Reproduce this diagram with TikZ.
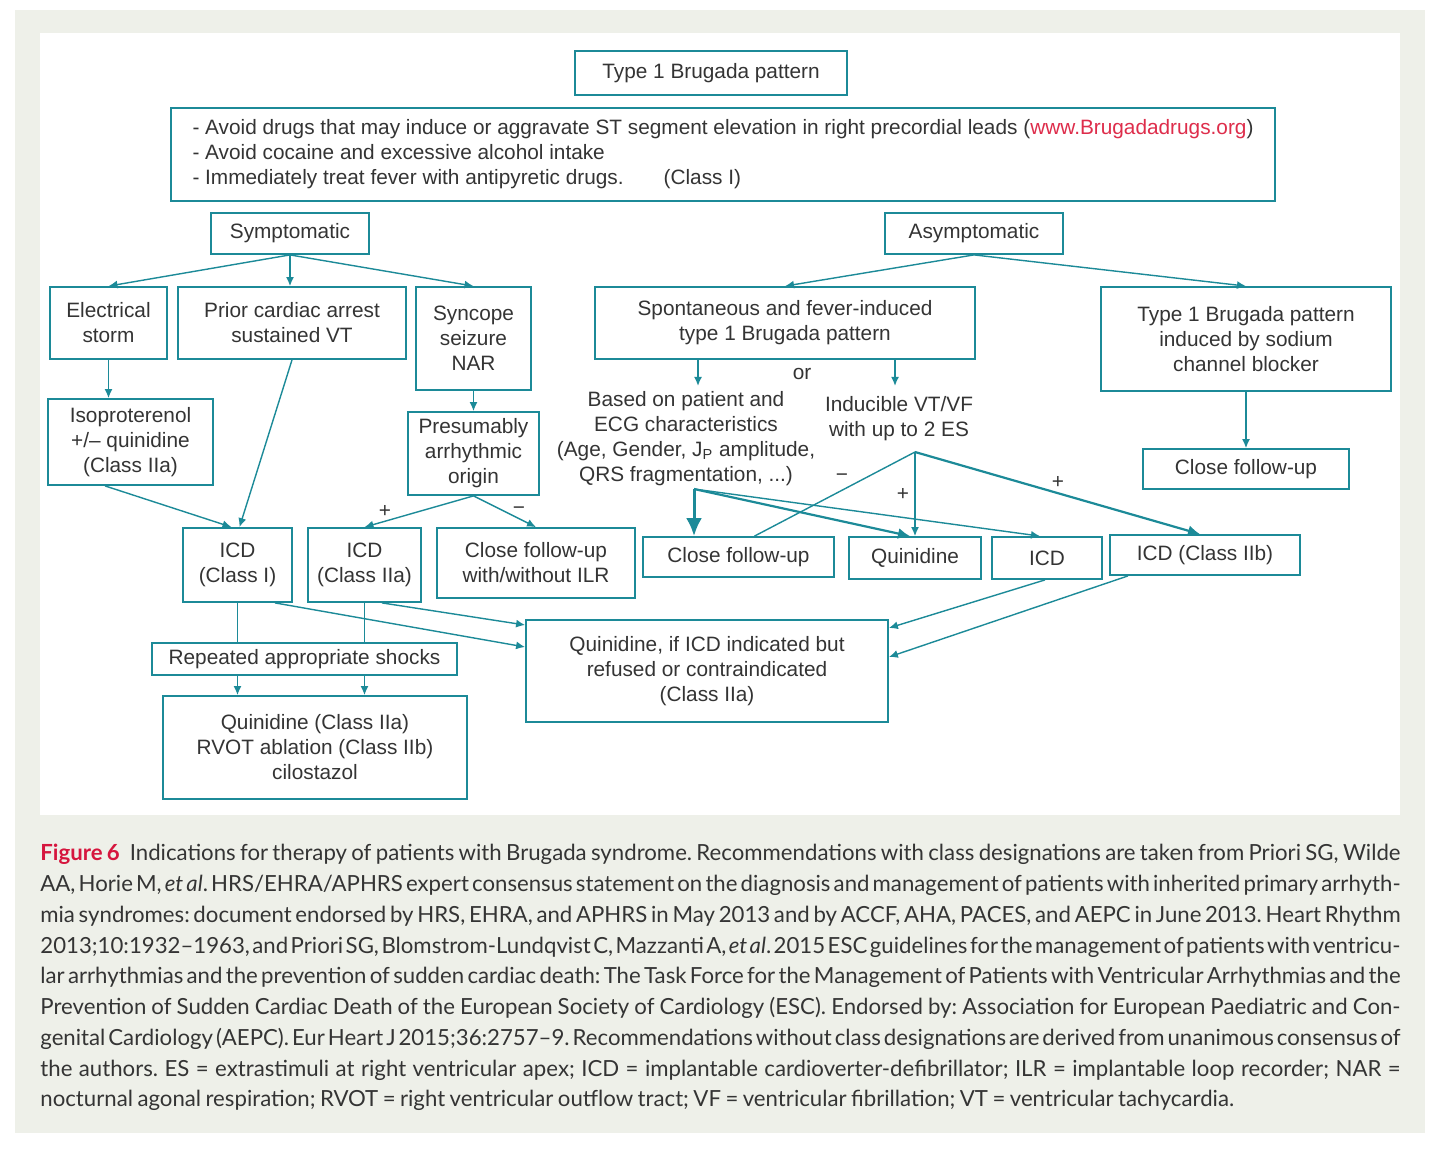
\documentclass[tikz,border=0pt]{standalone}
\usepackage{fontspec}
\setmainfont{Liberation Sans}
\newfontfamily\capfont{Lato}
\newcommand\capfnt{\capfont\fontsize{11.1}{15.375}\selectfont\frenchspacing\spaceskip=0.2em plus 0.5em minus 0.1em\relax}
\usetikzlibrary{arrows.meta,calc}
\definecolor{brteal}{RGB}{28,138,152}
\definecolor{brtext}{RGB}{52,52,52}
\definecolor{brred}{RGB}{222,45,75}
\definecolor{figred}{RGB}{214,22,62}
\definecolor{panel}{RGB}{238,240,233}
\begin{document}
\begin{tikzpicture}[x=0.5pt, y=-0.5pt,
  size/.style 2 args={minimum width=#1*0.5pt, minimum height=#2*0.5pt},
  box/.style={draw=brteal, line width=0.9pt, inner sep=0pt, align=center, text=brtext, font=\fontsize{10.4}{12.5}\selectfont},
  note/.style={inner sep=0pt, align=center, text=brtext, font=\fontsize{10.4}{12.5}\selectfont},
  link/.style={brteal, line width=0.7pt},
  arr/.style={link, -{Latex[length=4.5pt,width=4pt]}},
  midarr/.style={brteal, line width=1.1pt, -{Latex[length=6pt,width=5.5pt]}},
  bigarr/.style={brteal, line width=1.5pt, -{Latex[length=9pt,width=8pt]}}]

\fill[white] (0,0) rectangle (1440,1151);
\fill[panel] (15,10) rectangle (1425,1133);
\fill[white] (40,33) rectangle (1400,815);
\useasboundingbox (0,0) rectangle (1440,1151);

% top
\node[box, size={272}{44}] (type1) at (711,73) {Type 1 Brugada pattern};
\node[box, size={1104}{93}, align=left] (avoid) at (723,154.5) {- Avoid drugs that may induce or aggravate ST segment elevation in right precordial leads (\textcolor{brred}{www.Brugadadrugs.org})\\- Avoid cocaine and excessive alcohol intake\\- Immediately treat fever with antipyretic drugs.\hspace{20pt}(Class I)};

% symptomatic branch
\node[box, size={158}{41}] (sympt) at (290,233.5) {Symptomatic};
\node[box, size={117}{72}] (elec) at (108.5,323) {Electrical\\storm};
\node[box, size={228}{72}] (prior) at (292,323) {Prior cardiac arrest\\sustained VT};
\node[box, size={115}{103}] (sync) at (473.5,338.5) {Syncope\\seizure\\NAR};
\node[box, size={165}{86}] (iso) at (130.5,442) {Isoproterenol\\+/– quinidine\\(Class IIa)};
\node[box, size={131}{83}] (presum) at (473.5,453.5) {Presumably\\arrhythmic\\origin};
\node[box, size={109}{74}] (icdI) at (237.5,565) {ICD\\(Class I)};
\node[box, size={113}{74}] (icdIIa) at (364.5,565) {ICD\\(Class IIa)};
\node[box, size={198}{70}] (cfuILR) at (536,563) {Close follow-up\\with/without ILR};
\node[box, size={305}{32}] (shocks) at (304.5,659) {Repeated appropriate shocks};
\node[box, size={304}{103}] (quinIIa) at (315,747.5) {Quinidine (Class IIa)\\RVOT ablation (Class IIb)\\cilostazol};

% asymptomatic branch
\node[box, size={178}{41}] (asympt) at (974,233.5) {Asymptomatic};
\node[box, size={380}{72}] (spont) at (785,323) {Spontaneous and fever-induced\\type 1 Brugada pattern};
\node[box, size={290}{104}] (induced) at (1246,339) {Type 1 Brugada pattern\\induced by sodium\\channel blocker};
\node[box, size={206}{40}] (cfuR) at (1246,469) {Close follow-up};
\node[note] (or) at (802,374) {or};
\node[note] (based) at (686,438.5) {Based on patient and\\ECG characteristics\\(Age, Gender, J\textsubscript{P} amplitude,\\QRS fragmentation, ...)};
\node[note] (induc) at (899,418.5) {Inducible VT/VF\\with up to 2 ES};
\node[box, size={191}{40}] (cfuM) at (738.5,557) {Close follow-up};
\node[box, size={132}{42}] (quin) at (915,558) {Quinidine};
\node[box, size={110}{42}] (icd) at (1047,558) {ICD};
\node[box, size={190}{40}] (icdIIb) at (1205,555) {ICD (Class IIb)};
\node[box, size={362}{102}] (quinIf) at (707,671) {Quinidine, if ICD indicated but\\refused or contraindicated\\(Class IIa)};

\coordinate (spontL) at ($(spont.south)+(-87,0)$);
\coordinate (spontR) at ($(spont.south)+(110,0)$);
\coordinate (bsplit) at (694,489);
\coordinate (isplit) at (915,452);

% connectors
\draw[arr] (sympt.south) -- (elec.north);
\draw[arr] (sympt.south) -- (sympt.south |- prior.north);
\draw[arr] (sympt.south) -- (sync.north);
\draw[arr] (asympt.south) -- (spont.north);
\draw[arr] (asympt.south) -- (induced.north);
\draw[arr] (elec.south) -- (elec.south |- iso.north);
\draw[arr] (sync.south) -- (presum.north);
\draw[arr] ([xshift=-12.75pt]iso.south) -- ([xshift=-3pt]icdI.north);
\draw[arr] (prior.south) -- ([xshift=1pt]icdI.north);
\draw[arr] (presum.south) -- (icdIIa.north);
\draw[arr] (presum.south) -- (cfuILR.north);
\node[note] (plusP) at (385,511) {+};
\node[note] (minusP) at (519,511) {−};

\draw[arr] (spontL) -- ++(0,26);
\draw[arr] (spontR) -- ++(0,26);
\draw[bigarr] (bsplit) -- (bsplit |- cfuM.north);
\draw[midarr] (bsplit) -- ([xshift=-2.5pt]quin.north);
\draw[arr] (bsplit) -- ([xshift=-3.5pt]icd.north);
\draw[link] (isplit) -- ([xshift=8pt]cfuM.north);
\draw[arr] (isplit) -- (quin.north);
\draw[midarr] (isplit) -- ([xshift=-2.5pt]icdIIb.north);
\node[note] (minusI) at (842,478) {−};
\node[note] (plusI) at (903,494) {+};
\node[note] (plusK) at (1058,482) {+};
\draw[arr] (induced.south) -- (cfuR.north);

\draw[link] (icdI.south) -- (icdI.south |- shocks.north);
\draw[link] (icdIIa.south) -- (icdIIa.south |- shocks.north);
\draw[arr] (icdI.south |- shocks.south) -- (icdI.south |- quinIIa.north);
\draw[arr] (icdIIa.south |- shocks.south) -- (icdIIa.south |- quinIIa.north);
\draw[arr] ([xshift=18.75pt]icdI.south) -- ([yshift=12pt]quinIf.west);
\draw[arr] ([xshift=8.75pt]icdIIa.south) -- ([yshift=23pt]quinIf.west);
\draw[arr] ([xshift=-1pt]icd.south) -- ([yshift=21.5pt]quinIf.east);
\draw[arr] ([xshift=-38.5pt]icdIIb.south) -- ([yshift=7pt]quinIf.east);

% caption
\node[anchor=north west, inner sep=0pt, align=left, text=brtext, font=\capfnt] (caption) at (40,844) {%
\makebox[680pt][s]{\textcolor{figred}{\bfseries Figure 6}\hspace{0.45em}Indications for therapy of patients with Brugada syndrome. Recommendations with class designations are taken from Priori SG, Wilde}\\
\makebox[680pt][s]{AA, Horie M, \textit{et al}. HRS/EHRA/APHRS expert consensus statement on the diagnosis and management of patients with inherited primary arrhyth-}\\
\makebox[680pt][s]{mia syndromes: document endorsed by HRS, EHRA, and APHRS in May 2013 and by ACCF, AHA, PACES, and AEPC in June 2013. Heart Rhythm}\\
\makebox[680pt][s]{2013;10:1932–1963, and Priori SG, Blomstrom-Lundqvist C, Mazzanti A, \textit{et al}. 2015 ESC guidelines for the management of patients with ventricu-}\\
\makebox[680pt][s]{lar arrhythmias and the prevention of sudden cardiac death: The Task Force for the Management of Patients with Ventricular Arrhythmias and the}\\
\makebox[680pt][s]{Prevention of Sudden Cardiac Death of the European Society of Cardiology (ESC). Endorsed by: Association for European Paediatric and Con-}\\
\makebox[680pt][s]{genital Cardiology (AEPC). Eur Heart J 2015;36:2757–9. Recommendations without class designations are derived from unanimous consensus of}\\
\makebox[680pt][s]{the authors. ES = extrastimuli at right ventricular apex; ICD = implantable cardioverter-defibrillator; ILR = implantable loop recorder; NAR =}\\
nocturnal agonal respiration; RVOT = right ventricular outflow tract; VF = ventricular fibrillation; VT = ventricular tachycardia.};
\end{tikzpicture}
\end{document}
